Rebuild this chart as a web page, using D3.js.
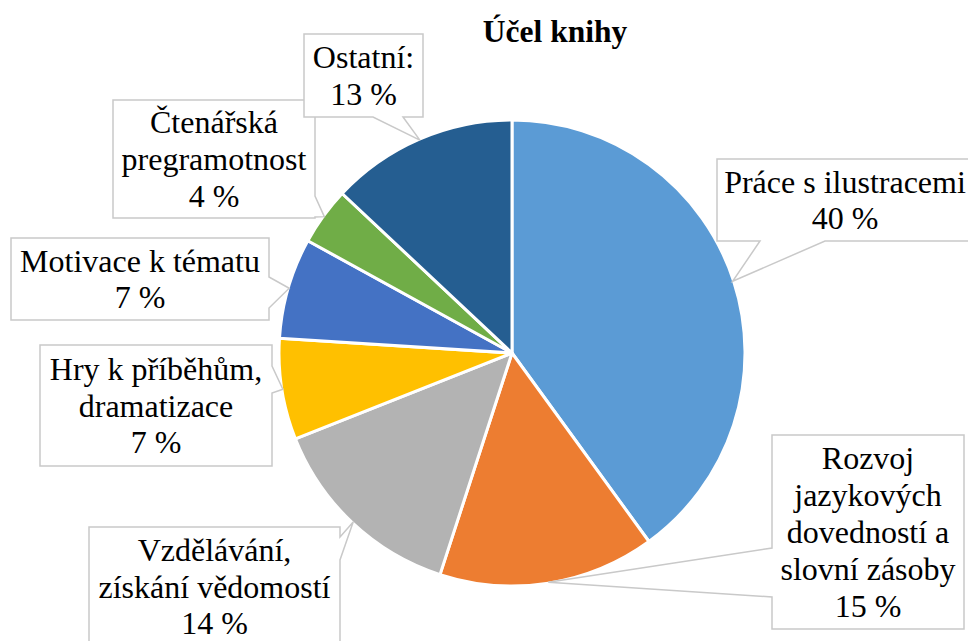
<!DOCTYPE html>
<html>
<head>
<meta charset="utf-8">
<script src="https://cdn.jsdelivr.net/npm/d3@7"></script>
<style>
  html, body { margin: 0; padding: 0; background: #fff; }
  svg { display: block; }
</style>
</head>
<body>
<svg id="chart" width="968" height="641"></svg>
<script>
// ---- data ----
const title = "Účel knihy";
const categories = [
  "Práce s ilustracemi",
  "Rozvoj\njazykových\ndovedností a\nslovní zásoby",
  "Vzdělávání,\nzískání vědomostí",
  "Hry k příběhům,\ndramatizace",
  "Motivace k tématu",
  "Čtenářská\npregramotnost",
  "Ostatní:"
];
const values = [40, 15, 14, 7, 7, 4, 13];
const colors = ["#5B9BD5", "#ED7D31", "#B3B3B3", "#FFC000", "#4472C4", "#70AD47", "#255E91"];

// ---- layout (callout boxes: x0,y0,x1,y1, wedge side and base range) ----
const boxes = [
  {x0: 717, y0: 159, x1: 973, y1: 241, side: "bottom", a: 760, b: 825},
  {x0: 772, y0: 435, x1: 964, y1: 629, side: "left", a: 548, b: 597},
  {x0: 89,  y0: 527, x1: 340, y1: 646, side: "right", a: 537, b: 560},
  {x0: 40,  y0: 345, x1: 272, y1: 466, side: "right", a: 366, b: 393},
  {x0: 11,  y0: 238, x1: 269, y1: 320, side: "right", a: 277, b: 308},
  {x0: 113, y0: 100, x1: 315, y1: 218, side: "right", a: 196, b: 217},
  {x0: 304, y0: 34,  x1: 423, y1: 117, side: "bottom", a: 373, b: 403}
];

const svg = d3.select("#chart");
const cx = 512, cy = 353, R = 233;
const fontSize = 32, lineH = 36.8;
const serif = '"Liberation Serif", "Times New Roman", serif';

svg.append("text")
  .attr("x", 555).attr("y", 42)
  .attr("text-anchor", "middle")
  .style("font-family", serif)
  .attr("font-weight", "bold")
  .attr("font-size", 31.5)
  .attr("fill", "#000")
  .text(title);

const pie = d3.pie().sort(null).value(d => d)(values);
const arc = d3.arc().innerRadius(0).outerRadius(R);
const g = svg.append("g").attr("transform", `translate(${cx},${cy})`);

g.selectAll("path.slice").data(pie).join("path")
  .attr("class", "slice")
  .attr("d", arc)
  .attr("fill", (d, i) => colors[i])
  .attr("stroke", "#fff")
  .attr("stroke-width", 3)
  .attr("stroke-linejoin", "round");

function tipOf(d) {
  const a = (d.startAngle + d.endAngle) / 2;
  const r = R - 1;
  return [cx + r * Math.sin(a), cy - r * Math.cos(a)];
}

function calloutPath(b, tip) {
  const pts = [];
  pts.push([b.x0, b.y0]);
  if (b.side === "top") { pts.push([b.a, b.y0], tip, [b.b, b.y0]); }
  pts.push([b.x1, b.y0]);
  if (b.side === "right") { pts.push([b.x1, b.a], tip, [b.x1, b.b]); }
  pts.push([b.x1, b.y1]);
  if (b.side === "bottom") { pts.push([b.b, b.y1], tip, [b.a, b.y1]); }
  pts.push([b.x0, b.y1]);
  if (b.side === "left") { pts.push([b.x0, b.b], tip, [b.x0, b.a]); }
  return "M" + pts.map(p => p.join(",")).join("L") + "Z";
}

const labels = svg.append("g");
pie.forEach((d, i) => {
  const b = boxes[i];
  const tip = tipOf(d);
  labels.append("path")
    .attr("d", calloutPath(b, tip))
    .attr("fill", "#fff")
    .attr("stroke", "#C9C9C9")
    .attr("stroke-width", 1.5)
    .attr("stroke-linejoin", "miter");
  const lines = categories[i].split("\n").concat([values[i] + " %"]);
  const mx = (b.x0 + b.x1) / 2;
  const my = (b.y0 + b.y1) / 2;
  const first = my - (lines.length - 1) * lineH / 2 + 11;
  const t = labels.append("text")
    .attr("text-anchor", "middle")
    .style("font-family", serif)
    .attr("font-size", fontSize)
    .attr("fill", "#000");
  lines.forEach((ln, k) => {
    t.append("tspan").attr("x", mx).attr("y", first + k * lineH).text(ln);
  });
});
</script>
</body>
</html>
